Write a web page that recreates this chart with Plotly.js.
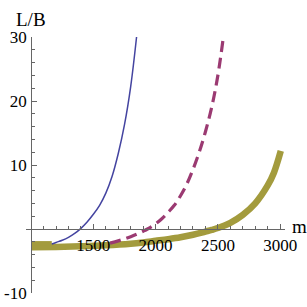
<!DOCTYPE html>
<html>
<head>
<meta charset="utf-8">
<script src="https://cdn.plot.ly/plotly-3.0.1.min.js"></script>
<style>html,body{margin:0;padding:0;background:#fff;}#chart{width:307px;height:307px;}</style>
</head>
<body>
<div id="chart"></div>
<script>
// Blue (thin solid) curve
const blueX = [1166, 1200, 1250, 1300, 1350, 1400, 1450, 1500, 1550, 1600, 1650, 1700, 1750, 1800, 1847];
const blueY = [-2.35, -2.1, -1.75, -1.3, -0.7, 0.1, 1.1, 2.3, 3.7, 5.6, 8.2, 11.8, 16.3, 22.3, 30.0];

// Purple (dashed) curve
const purpleX = [1634, 1700, 1750, 1800, 1850, 1900, 1935, 2000, 2050, 2100, 2150, 2200, 2250, 2300, 2350, 2400, 2450, 2500, 2544];
const purpleY = [-2.2, -1.85, -1.55, -1.2, -0.8, -0.35, 0.0, 0.8, 1.6, 2.6, 3.7, 5.2, 7.0, 9.3, 12.0, 15.2, 19.0, 24.0, 30.0];

// Olive (thick) curve
const oliveX = [1000, 1200, 1400, 1600, 1800, 1900, 2000, 2100, 2200, 2300, 2400, 2450, 2500, 2600, 2700, 2800, 2900, 2950, 3005];
const oliveY = [-2.85, -2.8, -2.7, -2.55, -2.3, -2.1, -1.85, -1.6, -1.3, -0.9, -0.4, -0.15, 0.15, 0.95, 2.2, 4.0, 6.8, 8.8, 12.2];

// Short thicker start of the olive band
const oliveStubX = [1000, 1166];
const oliveStubY = [-2.2, -2.2];

// Tick labels
const xTickVals = [1500, 2000, 2500, 3000];
const xTickText = ["1500", "2000", "2500", "3000"];
const yTickVals = [-10, 10, 20, 30];
const yTickText = ["-10", "10", "20", "30"];

const xRange = [959, 3039];
const yRange = [-10, 30];
const yAxisAt = 1000;
const xAxisAt = 0;

const olive = '#a39b3d';
const traces = [
  {x: oliveX, y: oliveY, mode: 'lines', line: {color: olive, width: 6.5, shape: 'spline'}, hoverinfo: 'skip'},
  {x: oliveStubX, y: oliveStubY, mode: 'lines', line: {color: olive, width: 4}, hoverinfo: 'skip'},
  {x: purpleX, y: purpleY, mode: 'lines', line: {color: '#9b3a72', width: 3.2, dash: '11px,6px', shape: 'spline'}, hoverinfo: 'skip'},
  {x: blueX, y: blueY, mode: 'lines', line: {color: '#4444a0', width: 1.5, shape: 'spline'}, hoverinfo: 'skip'}
];

const serif = 'Liberation Serif, Times New Roman, serif';
const tickFont = {family: serif, size: 17, color: '#000'};
const axisGray = '#666666';

const layout = {
  width: 307, height: 307,
  margin: {l: 26, r: 22, t: 37, b: 14, pad: 0},
  paper_bgcolor: '#fff', plot_bgcolor: '#fff',
  showlegend: false,
  xaxis: {
    range: xRange, anchor: 'free',
    position: (xAxisAt - yRange[0]) / (yRange[1] - yRange[0]),
    showgrid: false, zeroline: false, showline: true, linecolor: axisGray, linewidth: 1,
    tickmode: 'array', tickvals: xTickVals, ticktext: xTickText,
    ticks: 'inside', ticklen: 5, tickcolor: axisGray, tickwidth: 1,
    minor: {ticks: 'inside', dtick: 100, tick0: 1000, ticklen: 3, tickcolor: axisGray, showgrid: false},
    tickfont: tickFont, ticklabelstandoff: 1
  },
  yaxis: {
    range: yRange, anchor: 'free',
    position: (yAxisAt - xRange[0]) / (xRange[1] - xRange[0]),
    showgrid: false, zeroline: false, showline: true, linecolor: axisGray, linewidth: 1,
    tickmode: 'array', tickvals: yTickVals, ticktext: yTickText,
    ticks: 'inside', ticklen: 5, tickcolor: axisGray, tickwidth: 1,
    minor: {ticks: 'inside', dtick: 2, tick0: 0, ticklen: 3, tickcolor: axisGray, showgrid: false},
    tickfont: tickFont, ticklabelstandoff: 1
  },
  annotations: [
    {text: 'L/B', xref: 'paper', yref: 'paper', x: (yAxisAt - xRange[0]) / (xRange[1] - xRange[0]), y: 1,
     xanchor: 'center', yanchor: 'bottom', yshift: 5, showarrow: false,
     font: {family: serif, size: 19, color: '#000'}},
    {text: 'm', xref: 'paper', yref: 'paper', x: 1, y: (xAxisAt - yRange[0]) / (yRange[1] - yRange[0]),
     xanchor: 'left', yanchor: 'middle', xshift: 5, yshift: 3, showarrow: false,
     font: {family: serif, size: 19, color: '#000'}}
  ]
};

Plotly.newPlot('chart', traces, layout, {staticPlot: true, displayModeBar: false});
</script>
</body>
</html>
